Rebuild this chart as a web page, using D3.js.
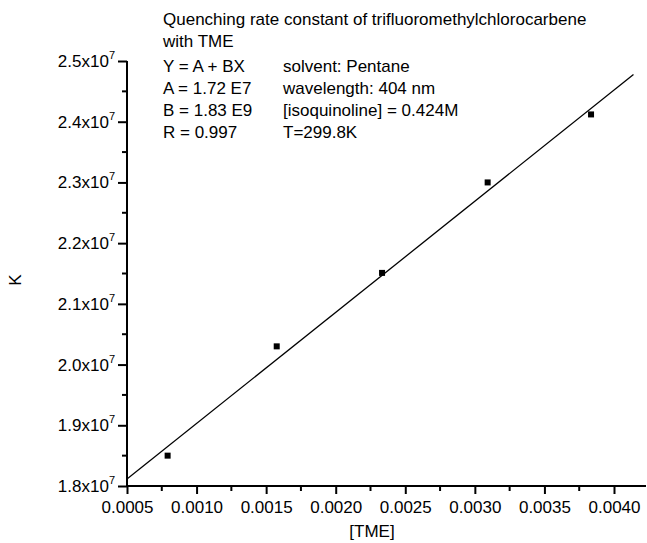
<!DOCTYPE html>
<html>
<head>
<meta charset="utf-8">
<script src="https://cdn.jsdelivr.net/npm/d3@7"></script>
<style>
  html, body { margin: 0; padding: 0; background: #fff; }
  svg { display: block; font-family: "Liberation Sans", Arial, sans-serif; }
</style>
</head>
<body>
<svg id="chart" width="647" height="543"></svg>
<script>
// Measured quenching rate constants vs. TME concentration
const tme = [0.000792, 0.001576, 0.002333, 0.003092, 0.003835];
const kObs = [1.850e7, 2.030e7, 2.151e7, 2.300e7, 2.412e7];

// Linear fit Y = A + BX
const fitA = 1.72e7;
const fitB = 1.83e9;
const fitRange = [0.0005, 0.00414];

// Axis ticks
const xTicks = [0.0005, 0.0010, 0.0015, 0.0020, 0.0025, 0.0030, 0.0035, 0.0040];
const xMinor = [0.00075, 0.00125, 0.00175, 0.00225, 0.00275, 0.00325, 0.00375];
const yTicks = [1.8e7, 1.9e7, 2.0e7, 2.1e7, 2.2e7, 2.3e7, 2.4e7, 2.5e7];
const yMinor = [1.85e7, 1.95e7, 2.05e7, 2.15e7, 2.25e7, 2.35e7, 2.45e7];

const titleLines = [
  "Quenching rate constant of trifluoromethylchlorocarbene",
  "with TME"
];
const paramLines = ["Y = A + BX", "A = 1.72 E7", "B = 1.83 E9", "R = 0.997"];
const conditionLines = [
  "solvent: Pentane",
  "wavelength: 404 nm",
  "[isoquinoline] = 0.424M",
  "T=299.8K"
];

const svg = d3.select("#chart");
const plotL = 127, plotR = 646, plotT = 61, plotB = 486;
const fontSize = 17;

const x = d3.scaleLinear().domain([0.0005, 0.00423]).range([plotL, plotR]);
const y = d3.scaleLinear().domain([1.8e7, 2.5e7]).range([plotB, plotT]);

// Minor ticks
svg.append("g").selectAll("line").data(xMinor).join("line")
  .attr("x1", d => x(d)).attr("x2", d => x(d))
  .attr("y1", plotB).attr("y2", plotB + 5)
  .attr("stroke", "#000").attr("stroke-width", 2);
svg.append("g").selectAll("line").data(yMinor).join("line")
  .attr("x1", plotL).attr("x2", plotL - 5)
  .attr("y1", d => y(d)).attr("y2", d => y(d))
  .attr("stroke", "#000").attr("stroke-width", 2);

// X axis
const xAxis = d3.axisBottom(x).tickValues(xTicks).tickSize(8).tickPadding(7)
  .tickFormat(d3.format(".4f"));
const xa = svg.append("g").attr("transform", `translate(0,${plotB})`).call(xAxis);
xa.select(".domain").attr("stroke-width", 2).attr("d", `M${plotL},0H${plotR}`);
xa.selectAll(".tick line").attr("stroke-width", 2);
xa.selectAll(".tick text").attr("font-size", fontSize).attr("fill", "#000")
  .attr("font-family", "Liberation Sans, Arial, sans-serif");

// Y axis with x10^7 labels
const yAxis = d3.axisLeft(y).tickValues(yTicks).tickSize(9).tickPadding(3);
const ya = svg.append("g").attr("transform", `translate(${plotL},0)`).call(yAxis);
ya.select(".domain").attr("stroke-width", 2).attr("d", `M0,${plotB}V${plotT}`);
ya.selectAll(".tick line").attr("stroke-width", 2);
ya.selectAll(".tick text").each(function(d) {
  const t = d3.select(this).text(null)
    .attr("font-size", fontSize).attr("fill", "#000")
    .attr("font-family", "Liberation Sans, Arial, sans-serif");
  t.append("tspan").text((d / 1e7).toFixed(1) + "x10");
  t.append("tspan").attr("font-size", 11).attr("dy", -8).text("7");
});

// Axis titles
svg.append("text").attr("x", 372).attr("y", 537).attr("text-anchor", "middle")
  .attr("font-size", fontSize).text("[TME]");
svg.append("text").attr("transform", "translate(21,280) rotate(-90)")
  .attr("text-anchor", "middle").attr("font-size", fontSize).text("K");

// Fit line
svg.append("line")
  .attr("x1", x(fitRange[0])).attr("y1", y(fitA + fitB * fitRange[0]))
  .attr("x2", x(fitRange[1])).attr("y2", y(fitA + fitB * fitRange[1]))
  .attr("stroke", "#000").attr("stroke-width", 1.3);

// Data points
svg.append("g").selectAll("rect").data(tme).join("rect")
  .attr("x", d => x(d) - 3).attr("y", (d, i) => y(kObs[i]) - 3)
  .attr("width", 6).attr("height", 6).attr("fill", "#000");

// Annotation block
const note = svg.append("g").attr("font-size", fontSize).attr("fill", "#000");
titleLines.forEach((s, i) => {
  note.append("text").attr("x", 163).attr("y", 25 + i * 22).text(s);
});
paramLines.forEach((s, i) => {
  note.append("text").attr("x", 163).attr("y", 72 + i * 22).text(s);
});
conditionLines.forEach((s, i) => {
  note.append("text").attr("x", 283).attr("y", 72 + i * 22).text(s);
});
</script>
</body>
</html>
